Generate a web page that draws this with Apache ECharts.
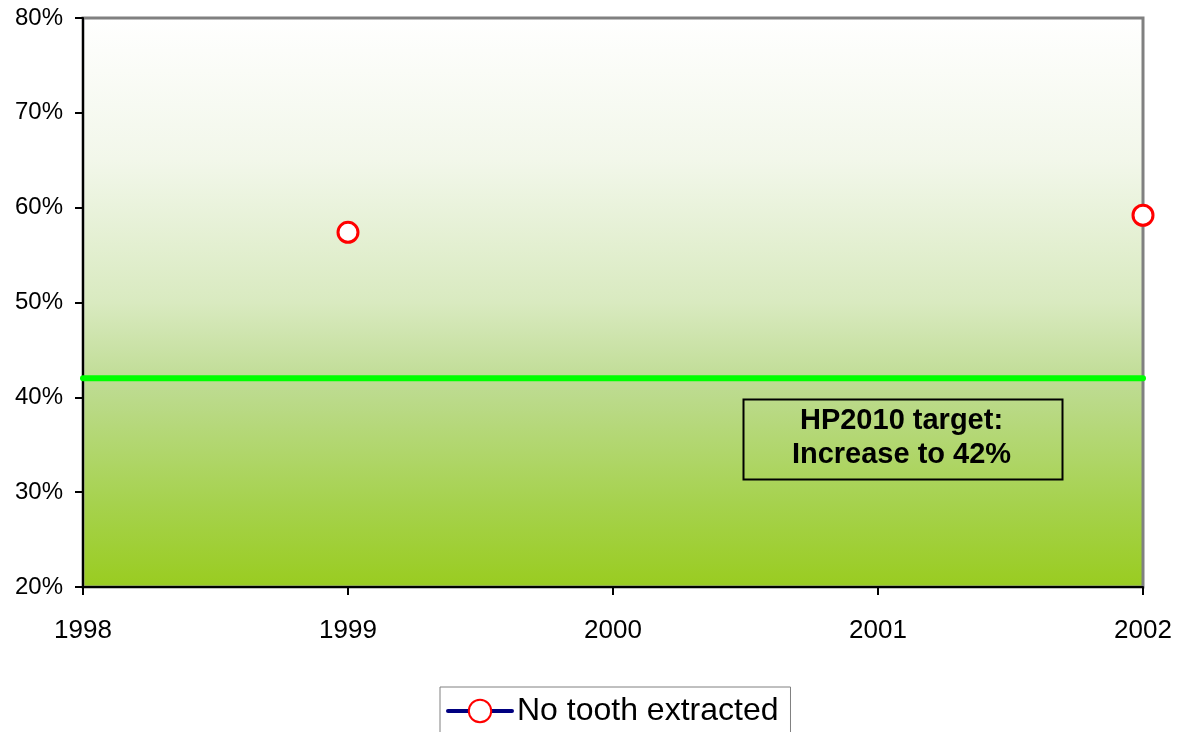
<!DOCTYPE html>
<html><head><meta charset="utf-8">
<script src="https://cdn.jsdelivr.net/npm/echarts@6/dist/echarts.min.js"></script>
<style>html,body{margin:0;padding:0;background:#fff}#c{width:1186px;height:732px}</style>
</head><body><div id="c"></div>
<script>
const years = [1999, 2002];
const noToothExtracted = [57.4, 59.2];
const targetYears = [1998, 2002];
const targetValue = 42;
const yTicks = [20, 30, 40, 50, 60, 70, 80];
const seriesName = 'No tooth extracted';
const annotationLines = ['HP2010 target:', 'Increase to 42%'];

const chart = echarts.init(document.getElementById('c'));
const font = 'Arial, "Liberation Sans", sans-serif';
chart.setOption({
  animation: false,
  grid: {
    left: 83, right: 43, top: 18, bottom: 145,
    show: true, borderColor: '#808080', borderWidth: 3,
    backgroundColor: {
      type: 'linear', x: 0, y: 0, x2: 0, y2: 1,
      colorStops: [
        {offset: 0, color: '#ffffff'},
        {offset: 0.25, color: '#f2f7ea'},
        {offset: 0.5, color: '#d9eac0'},
        {offset: 0.65, color: '#bddb90'},
        {offset: 0.85, color: '#a6d24e'},
        {offset: 1, color: '#99cc1f'}
      ]
    }
  },
  xAxis: {
    type: 'value', min: 1998, max: 2002, interval: 1,
    axisLine: {show: true, onZero: false, lineStyle: {color: '#000', width: 2}},
    axisTick: {show: true, length: 8, lineStyle: {color: '#000', width: 2}},
    splitLine: {show: false},
    axisLabel: {color: '#000', fontSize: 26, fontFamily: font, margin: 31, formatter: v => String(v)}
  },
  yAxis: {
    type: 'value', min: 20, max: 80, interval: 10,
    axisLine: {show: true, lineStyle: {color: '#000', width: 2}},
    axisTick: {show: true, length: 8, lineStyle: {color: '#000', width: 2}},
    splitLine: {show: false},
    axisLabel: {color: '#000', fontSize: 24, fontFamily: font, margin: 20, formatter: v => v + '%'}
  },
  legend: {
    data: [{name: seriesName, lineStyle: {color: '#000080', width: 4, opacity: 1, cap: 'round'}}],
    left: 440, top: 687,
    itemWidth: 64, itemHeight: 28, itemGap: 6,
    padding: [8, 12, 10, 6],
    borderColor: '#808080', borderWidth: 1,
    textStyle: {color: '#000', fontSize: 32, fontFamily: font}
  },
  series: [
    {
      name: 'target', type: 'line', silent: true,
      data: targetYears.map(y => [y, targetValue]),
      symbol: 'none',
      lineStyle: {color: '#00ff00', width: 6, cap: 'round'},
      z: 2
    },
    {
      name: seriesName, type: 'line',
      data: years.map((y, i) => [y, noToothExtracted[i]]),
      symbol: 'circle', symbolSize: 20,
      itemStyle: {color: '#ffffff', borderColor: '#ff0000', borderWidth: 3},
      lineStyle: {color: '#000080', width: 0, opacity: 0},
      clip: false,
      z: 3
    }
  ],
  graphic: [
    {
      type: 'rect', left: 741, top: 397,
      shape: {width: 319, height: 80},
      style: {fill: 'none', stroke: '#000', lineWidth: 2}
    },
    {
      type: 'text', left: 742, top: 404,
      style: {
        text: annotationLines.join('\n'), width: 319,
        font: 'bold 29px ' + font, fill: '#000', align: 'center', lineHeight: 34,
        x: 159.5, textAlign: 'center'
      }
    }
  ]
});
</script></body></html>
